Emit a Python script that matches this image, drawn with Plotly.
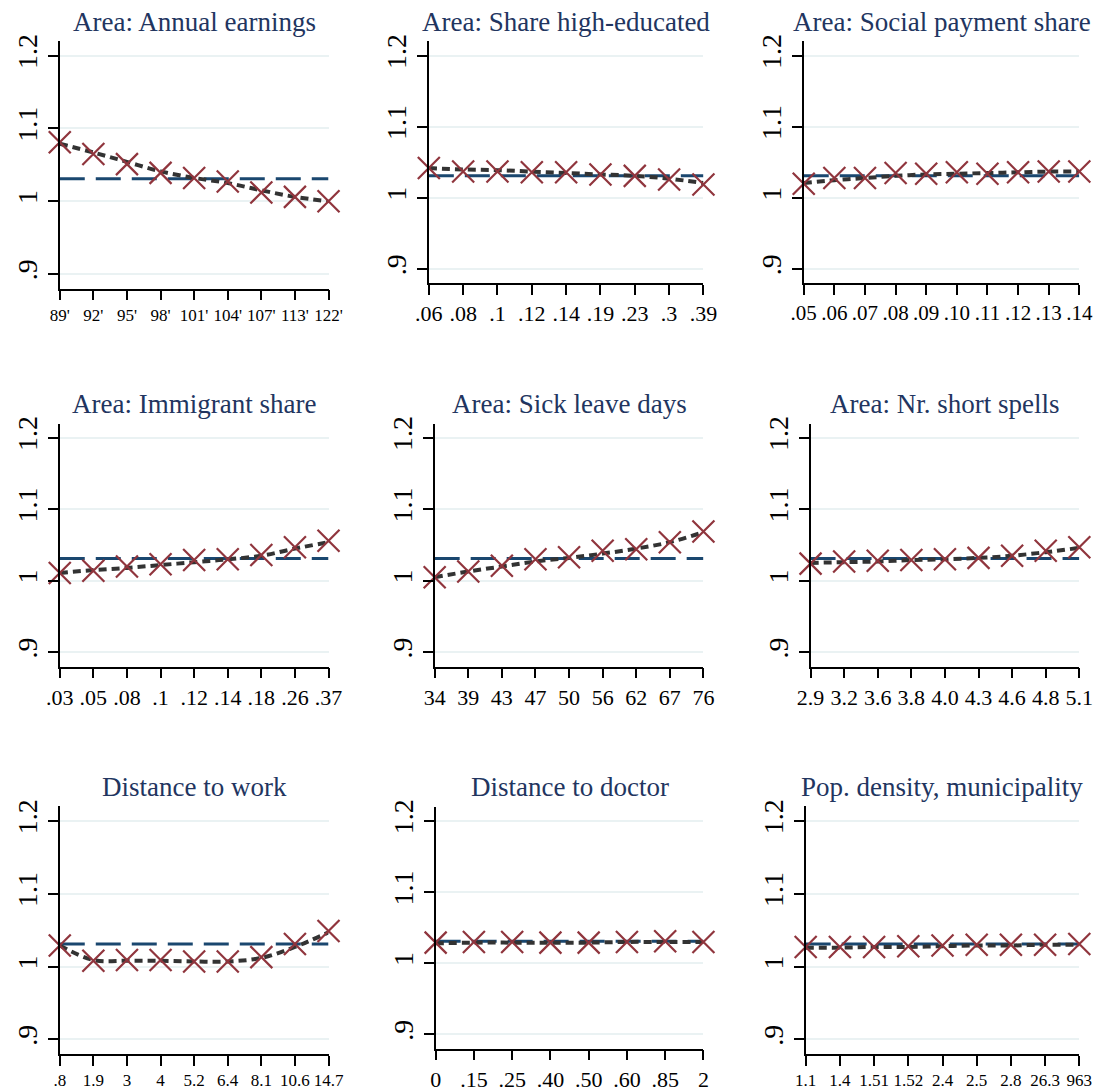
import plotly.graph_objects as go

# ---- data -------------------------------------------------------------
titles = [
    "Area: Annual earnings", "Area: Share high-educated", "Area: Social payment share",
    "Area: Immigrant share", "Area: Sick leave days", "Area: Nr. short spells",
    "Distance to work", "Distance to doctor", "Pop. density, municipality",
]

labels_earnings = ["89'", "92'", "95'", "98'", "101'", "104'", "107'", "113'", "122'"]
labels_higher_ed = [".06", ".08", ".1", ".12", ".14", ".19", ".23", ".3", ".39"]
labels_social = [".05", ".06", ".07", ".08", ".09", ".10", ".11", ".12", ".13", ".14"]
labels_immigrant = [".03", ".05", ".08", ".1", ".12", ".14", ".18", ".26", ".37"]
labels_sickdays = ["34", "39", "43", "47", "50", "56", "62", "67", "76"]
labels_spells = ["2.9", "3.2", "3.6", "3.8", "4.0", "4.3", "4.6", "4.8", "5.1"]
labels_work = [".8", "1.9", "3", "4", "5.2", "6.4", "8.1", "10.6", "14.7"]
labels_doctor = ["0", ".15", ".25", ".40", ".50", ".60", ".85", "2"]
labels_density = ["1.1", "1.4", "1.51", "1.52", "2.4", "2.5", "2.8", "26.3", "963"]

est_earnings = [1.081, 1.065, 1.051, 1.039, 1.032, 1.027, 1.012, 1.006, 1.000]
est_higher_ed = [1.042, 1.037, 1.037, 1.036, 1.036, 1.033, 1.031, 1.026, 1.019]
est_social = [1.020, 1.028, 1.028, 1.035, 1.034, 1.036, 1.034, 1.036, 1.037, 1.037]
est_immigrant = [1.011, 1.014, 1.020, 1.023, 1.029, 1.030, 1.036, 1.047, 1.056]
est_sickdays = [1.005, 1.013, 1.021, 1.030, 1.033, 1.042, 1.044, 1.054, 1.069]
est_spells = [1.024, 1.027, 1.028, 1.029, 1.030, 1.032, 1.035, 1.042, 1.047]
est_work = [1.029, 1.008, 1.009, 1.009, 1.007, 1.007, 1.013, 1.031, 1.049]
est_doctor = [1.029, 1.030, 1.030, 1.029, 1.029, 1.030, 1.031, 1.030]
est_density = [1.027, 1.027, 1.027, 1.028, 1.029, 1.030, 1.030, 1.030, 1.031]

fit_earnings = [1.079, 1.067, 1.054, 1.041, 1.032, 1.025, 1.015, 1.006, 1.000]
fit_higher_ed = [1.042, 1.040, 1.039, 1.037, 1.035, 1.033, 1.031, 1.027, 1.021]
fit_social = [1.021, 1.025, 1.028, 1.031, 1.033, 1.034, 1.035, 1.036, 1.037, 1.037]
fit_immigrant = [1.011, 1.015, 1.018, 1.022, 1.026, 1.030, 1.035, 1.045, 1.054]
fit_sickdays = [1.005, 1.013, 1.020, 1.027, 1.032, 1.038, 1.045, 1.054, 1.068]
fit_spells = [1.025, 1.026, 1.027, 1.029, 1.030, 1.032, 1.035, 1.040, 1.046]
fit_work = [1.029, 1.009, 1.008, 1.008, 1.007, 1.007, 1.012, 1.027, 1.047]
fit_doctor = [1.028, 1.029, 1.029, 1.029, 1.029, 1.030, 1.030, 1.030]
fit_density = [1.026, 1.026, 1.027, 1.027, 1.028, 1.029, 1.029, 1.030, 1.030]

overall_mean = 1.031

y_ticks = [0.9, 1.0, 1.1, 1.2]
y_tick_text = [".9", "1", "1.1", "1.2"]

panels = [
    (labels_earnings, est_earnings, fit_earnings),
    (labels_higher_ed, est_higher_ed, fit_higher_ed),
    (labels_social, est_social, fit_social),
    (labels_immigrant, est_immigrant, fit_immigrant),
    (labels_sickdays, est_sickdays, fit_sickdays),
    (labels_spells, est_spells, fit_spells),
    (labels_work, est_work, fit_work),
    (labels_doctor, est_doctor, fit_doctor),
    (labels_density, est_density, fit_density),
]

# ---- layout geometry (pixels) -----------------------------------------
W, H = 1106, 1092
# left, right, top, bottom of each plotting area
boxes = [
    (47, 323, 34.3, 283.7), (426, 708, 34.7, 278.3), (811, 1094, 34.7, 278.3),
    (47, 323, 419.6, 664.4), (432, 708, 419.6, 664.4), (818, 1094, 419.6, 664.4),
    (47, 323, 805.3, 1054.7), (433, 708, 805.7, 1049.3), (813, 1094, 805.3, 1054.7),
]
title_y = [15, 15, 15, 400, 400, 400, 786, 786, 786]
xtick_size = [17, 22, 21, 22, 22, 22, 17, 22, 17]

TITLE_COLOR = "#22355f"
MARKER_COLOR = "#90353d"
FIT_COLOR = "#333333"
MEAN_COLOR = "#1a476f"
GRID_COLOR = "#eaf2f3"
SERIF = "Liberation Serif, Times New Roman, serif"

fig = go.Figure()
layout = dict(
    width=W, height=H, margin=dict(l=0, r=0, t=0, b=0),
    paper_bgcolor="white", plot_bgcolor="white", showlegend=False,
    font=dict(family=SERIF, color="black"),
    annotations=[],
)

for i, (labels, est, fit) in enumerate(panels):
    n = i + 1
    xa = "x" if n == 1 else f"x{n}"
    ya = "y" if n == 1 else f"y{n}"
    xs = list(range(len(labels)))
    left, right, top, bottom = boxes[i]

    # overall mean reference line
    fig.add_trace(go.Scatter(
        x=[xs[0], xs[-1]], y=[overall_mean, overall_mean], mode="lines",
        line=dict(color=MEAN_COLOR, width=3, dash="25px,11px"),
        xaxis=xa, yaxis=ya, hoverinfo="skip", cliponaxis=False))
    # smoothed fit
    fig.add_trace(go.Scatter(
        x=xs, y=fit, mode="lines",
        line=dict(color=FIT_COLOR, width=4, dash="8px,5px", shape="spline"),
        xaxis=xa, yaxis=ya, hoverinfo="skip", cliponaxis=False))
    # point estimates
    fig.add_trace(go.Scatter(
        x=xs, y=est, mode="markers",
        marker=dict(symbol="x-thin-open", size=22, color=MARKER_COLOR,
                    line=dict(color=MARKER_COLOR, width=2.2)),
        xaxis=xa, yaxis=ya, cliponaxis=False))

    axis_suffix = "" if n == 1 else str(n)
    layout["xaxis" + axis_suffix] = dict(
        domain=[left / W, right / W], anchor=ya, range=[0, len(labels) - 1],
        tickmode="array", tickvals=xs, ticktext=labels,
        ticks="outside", ticklen=10, tickwidth=1.5, tickcolor="black",
        showline=True, linecolor="black", linewidth=1.5,
        showgrid=False, zeroline=False, tickangle=0,
        tickfont=dict(family=SERIF, size=xtick_size[i], color="black"),
    )
    layout["yaxis" + axis_suffix] = dict(
        domain=[1 - bottom / H, 1 - top / H], anchor=xa, range=[0.88, 1.22],
        tickmode="array", tickvals=y_ticks, ticktext=y_tick_text,
        ticks="outside", ticklen=10, tickwidth=1.5, tickcolor="black",
        showline=True, linecolor="black", linewidth=1.5,
        showgrid=True, gridcolor=GRID_COLOR, gridwidth=2, zeroline=False,
        tickangle=-90,
        tickfont=dict(family=SERIF, size=28, color="black"),
    )
    layout["annotations"].append(dict(
        text=titles[i], xref="paper", yref="paper",
        x=(left + right) / 2 / W, y=1 - title_y[i] / H,
        xanchor="center", yanchor="middle", showarrow=False,
        font=dict(family=SERIF, size=27, color=TITLE_COLOR),
    ))

fig.update_layout(**layout)
fig.write_html("out.html")
